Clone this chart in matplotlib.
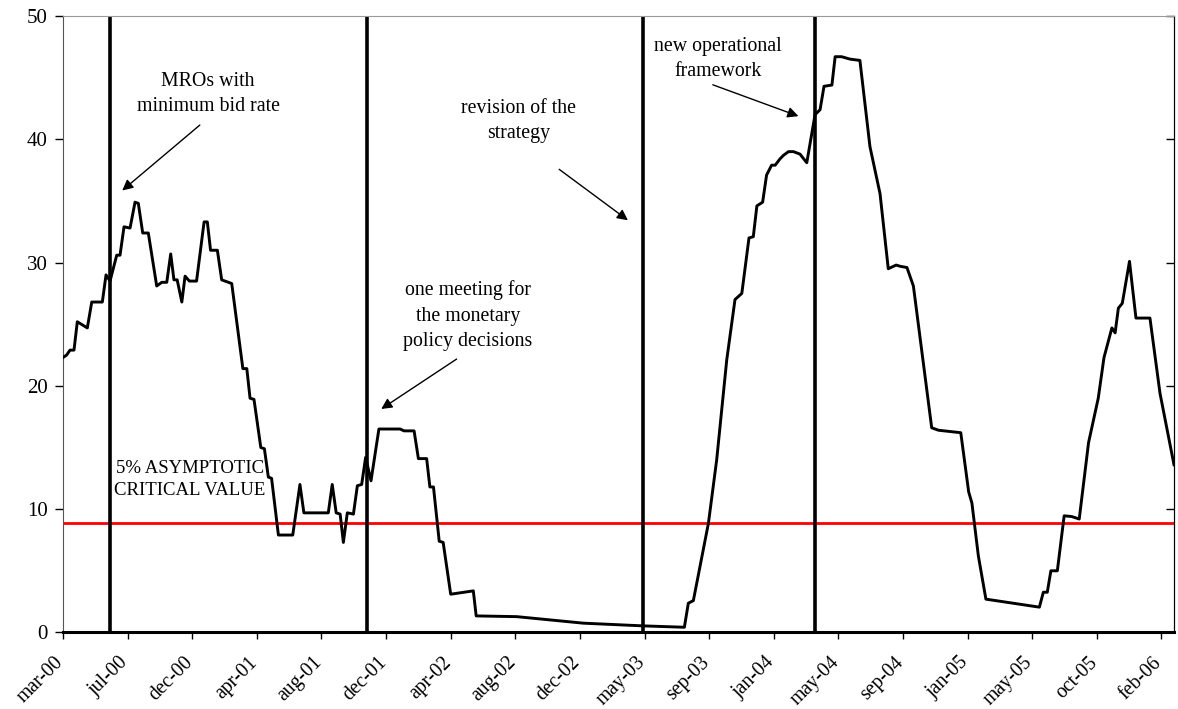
import matplotlib
matplotlib.use("Agg")
import matplotlib.pyplot as plt
from matplotlib.transforms import ScaledTranslation

plt.rcParams["font.family"] = "serif"
plt.rcParams["font.serif"] = ["Liberation Serif", "DejaVu Serif"]

# weekly observation index (18 obs between labelled ticks) and statistic value
obs = [0, 1.0, 1.95, 3.06, 3.98, 6.77, 8.0, 10.95, 11.98, 13.1, 14.96, 15.88,
       16.99, 18.67, 20.06, 20.98, 22.2, 23.76, 26.1, 27.5, 28.9, 30.0, 30.9,
       31.8, 33.1, 34.0, 35.2, 37.2, 39.3, 40.2, 41.1, 43.0, 44.2, 47.0, 50.1,
       51.2, 52.1, 53.2, 55.1, 56.1, 57.2, 58.1, 60.0, 64.0, 66.0, 67.1, 73.9,
       75.0, 76.1, 77.2, 78.1, 79.2, 80.9, 82.0, 83.2, 84.3, 85.8, 88.0, 93.9,
       95.0, 97.8, 99.0, 101.3, 102.2, 103.2, 104.8, 105.9, 108.0, 114.3, 115.1,
       126.4, 145.0, 161.7, 173.1, 174.2, 175.6, 179.8, 182.1, 184.9, 187.2,
       189.1, 191.1, 192.3, 193.3, 194.9, 196.0, 197.4, 198.4, 199.7, 200.7,
       202.1, 203.5, 205.3, 207.2, 209.5, 210.9, 212.0, 214.2, 215.1, 216.9,
       219.3, 222.0, 224.8, 227.6, 229.9, 232.1, 233.2, 235.1, 236.9, 242.0,
       243.9, 250.1, 252.3, 253.2, 255.0, 257.1, 272.0, 273.1, 274.2, 275.2,
       277.0, 278.9, 281.0, 283.1, 285.7, 288.4, 290.0, 292.2, 293.1, 294.0,
       295.1, 297.1, 298.9, 302.8, 305.6, 309.5]
stat = [22.3, 22.5, 22.9, 22.9, 25.2, 24.7, 26.8, 26.8, 29.0, 28.5, 30.6, 30.6,
        32.9, 32.8, 34.9, 34.8, 32.4, 32.4, 28.1, 28.4, 28.4, 30.7, 28.6,
        28.6, 26.8, 28.9, 28.5, 28.5, 33.3, 33.3, 31.0, 31.0, 28.6, 28.3, 21.4,
        21.4, 19.0, 18.9, 15.0, 14.9, 12.6, 12.5, 7.9, 7.9, 12.0, 9.7, 9.7,
        12.0, 9.7, 9.6, 7.3, 9.7, 9.6, 11.9, 12.0, 14.2, 12.3, 16.5, 16.5,
        16.35, 16.35, 14.1, 14.1, 11.8, 11.8, 7.4, 7.3, 3.1, 3.37, 1.34,
        1.28, 0.75, 0.53, 0.42, 2.37, 2.58, 8.86, 14.0, 22.1, 27.0,
        27.5, 32.0, 32.1, 34.6, 34.9, 37.1, 37.9, 37.9, 38.4, 38.7,
        39.0, 39.0, 38.8, 38.1, 42.0, 42.4, 44.3, 44.4, 46.7, 46.7,
        46.5, 46.4, 39.4, 35.6, 29.5, 29.8, 29.7, 29.6, 28.1, 16.6,
        16.4, 16.2, 11.4, 10.5, 6.2, 2.7, 2.05, 3.26, 3.26, 5.0,
        5.0, 9.46, 9.4, 9.2, 15.4, 19.0, 22.3, 24.7, 24.3, 26.3,
        26.7, 30.1, 25.5, 25.5, 19.4, 13.6]

tick_labels = ["mar-00", "jul-00", "dec-00", "apr-01", "aug-01", "dec-01",
               "apr-02", "aug-02", "dec-02", "may-03", "sep-03", "jan-04",
               "may-04", "sep-04", "jan-05", "may-05", "oct-05", "feb-06"]
obs_per_tick = 18

critical_value = 8.86
events = [13.1, 84.6, 161.7, 209.5]

fig = plt.figure(figsize=(11.78, 7.09), dpi=100)
ax = fig.add_axes([0.0535, 0.108, 0.9431, 0.8694])

ax.axhline(critical_value, color="#ff0000", lw=2.0, zorder=1)
for e in events:
    ax.axvline(e, color="black", lw=2.6, zorder=2)
ax.plot(obs, stat, color="black", lw=2.1, zorder=3)

ax.set_xlim(0, 309.5)
ax.set_ylim(0, 50)
ax.set_yticks(range(0, 51, 10))
ax.set_xticks([i * obs_per_tick for i in range(len(tick_labels))])
ax.set_xticklabels(tick_labels, rotation=45, ha="right", va="top",
                   rotation_mode="anchor")
ax.tick_params(axis="both", labelsize=15, direction="out", length=5, width=1)
ax.tick_params(axis="x", pad=6, labelsize=14.2)
ax.tick_params(axis="y", pad=5, length=6)
shift = ScaledTranslation(-0.09, -0.055, fig.dpi_scale_trans)
for lab in ax.get_xticklabels():
    lab.set_transform(lab.get_transform() + shift)

ax2 = ax.secondary_yaxis("right")
ax2.set_yticks(range(0, 51, 10))
ax2.tick_params(direction="in", length=6, width=1, labelright=False)

ax.spines["top"].set_color("#999999")
ax.spines["left"].set_color("#555555")
ax.spines["bottom"].set_linewidth(2.2)
ax2.spines["right"].set_color("black")

arrow = dict(arrowstyle="-|>", color="black", lw=1.0, mutation_scale=16)
txt = dict(fontsize=14.3, ha="center", va="center", linespacing=1.45)
ax.annotate("", xy=(15.9, 35.7), xytext=(38.7, 41.3), arrowprops=arrow)
ax.text(40.4, 43.7, "MROs with\nminimum bid rate", **txt)
ax.annotate("", xy=(158.0, 33.3), xytext=(137.6, 37.7), arrowprops=arrow)
ax.text(127.0, 41.5, "revision of the\nstrategy", **txt)
ax.annotate("", xy=(205.6, 41.8), xytext=(180.3, 44.5), arrowprops=arrow)
ax.text(182.5, 46.5, "new operational\nframework", **txt)
ax.annotate("", xy=(88.0, 18.0), xytext=(110.3, 22.3), arrowprops=arrow)
ax.text(112.8, 25.7, "one meeting for\nthe monetary\npolicy decisions", **txt)
ax.text(35.4, 12.4, "5% ASYMPTOTIC\nCRITICAL VALUE", fontsize=13.5,
        ha="center", va="center", linespacing=1.4)

fig.savefig("out.png", dpi=100)
